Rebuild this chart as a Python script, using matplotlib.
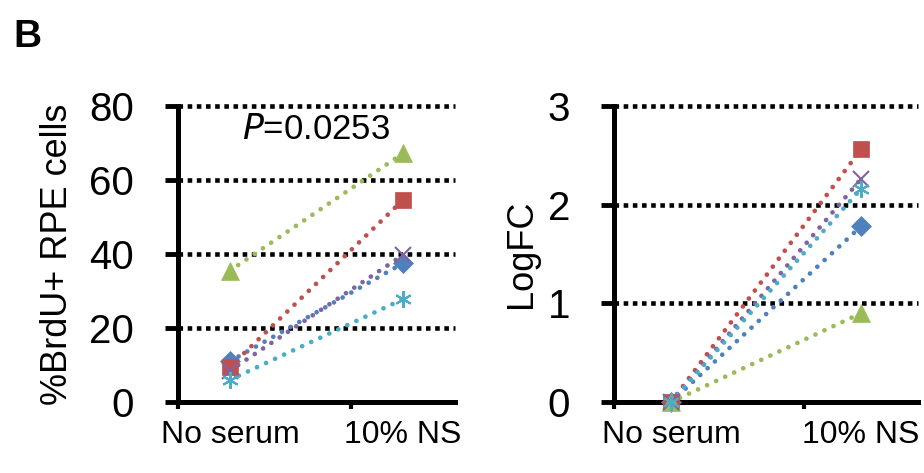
import matplotlib.pyplot as plt

plt.rcParams['font.family'] = ['Liberation Sans', 'DejaVu Sans']

# Data
categories = ['No serum', '10% NS']
series_names = ['blue', 'red', 'green', 'purple', 'cyan']
brdu_no_serum = [11.0, 9.5, 35.5, 8.5, 6.0]
brdu_ns = [37.5, 54.6, 67.2, 39.7, 27.8]
logfc_no_serum = [0.0, 0.0, 0.0, 0.0, 0.0]
logfc_ns = [1.78, 2.56, 0.90, 2.26, 2.16]
brdu_ticks = [0, 20, 40, 60, 80]
logfc_ticks = [0, 1, 2, 3]

colors = ['#4F81BD', '#C0504D', '#9BBB59', '#8064A2', '#4BACC6']
markers = ['D', 's', '^', 'x', (6, 2, 0)]
msizes = [10, 11, 13, 11, 12]

fig = plt.figure(figsize=(9.24, 4.73), dpi=100)
ax1 = fig.add_axes([0.1926, 0.150, 0.2998, 0.626])
ax2 = fig.add_axes([0.6645, 0.150, 0.329, 0.626])

xpos = [0.5, 1.5]


def style_axis(ax, ticks, ymax):
    ax.set_xlim(0.2, 1.8)
    ax.set_ylim(0, ymax)
    for t in ticks[1:]:
        ax.axhline(t, color='black', linestyle=(0, (1, 1)), linewidth=3.3,
                   dash_capstyle='butt', zorder=1, clip_on=False)
    for s in ['top', 'right']:
        ax.spines[s].set_visible(False)
    for s in ['left', 'bottom']:
        ax.spines[s].set_linewidth(3.6)
        ax.spines[s].set_zorder(2)
    ax.set_yticks(ticks)
    ax.set_yticklabels([str(t) for t in ticks], fontsize=29)
    ax.tick_params(axis='y', direction='out', length=9.5, width=3.5, pad=22)
    ax.set_xticks([0.2, 1.2], minor=True)
    ax.tick_params(axis='x', which='minor', direction='out', length=5, width=3)
    ax.set_xticks(xpos)
    ax.set_xticklabels(categories, fontsize=23)
    ax.tick_params(axis='x', which='major', length=0, pad=13)


def draw_series(ax, start, end):
    for i in range(len(series_names)):
        ax.plot(xpos, [start[i], end[i]], color=colors[i], linestyle=(0, (0.01, 2.1)),
                linewidth=3.4, dash_capstyle='round', zorder=3, clip_on=False)
        mk = markers[i]
        ax.plot(xpos, [start[i], end[i]], linestyle='none', marker=mk,
                color=colors[i], markersize=msizes[i],
                markeredgewidth=1.5 if mk in ('x', (6, 2, 0)) else 0.5,
                zorder=4, clip_on=False)


style_axis(ax1, brdu_ticks, 80)
draw_series(ax1, brdu_no_serum, brdu_ns)
ax1.set_ylabel('%BrdU+ RPE cells', fontsize=26, labelpad=10)
ax1.text(0.5, 0.975, '$\\it{P}$=0.0253', transform=ax1.transAxes, ha='center',
         va='top', fontsize=25, bbox=dict(facecolor='white', edgecolor='none', pad=1),
         zorder=5)

style_axis(ax2, logfc_ticks, 3)
draw_series(ax2, logfc_no_serum, logfc_ns)
ax2.set_ylabel('LogFC', fontsize=26, labelpad=6)

fig.text(0.014, 0.9, 'B', fontsize=28, fontweight='bold')

fig.savefig('out.png', dpi=100)
